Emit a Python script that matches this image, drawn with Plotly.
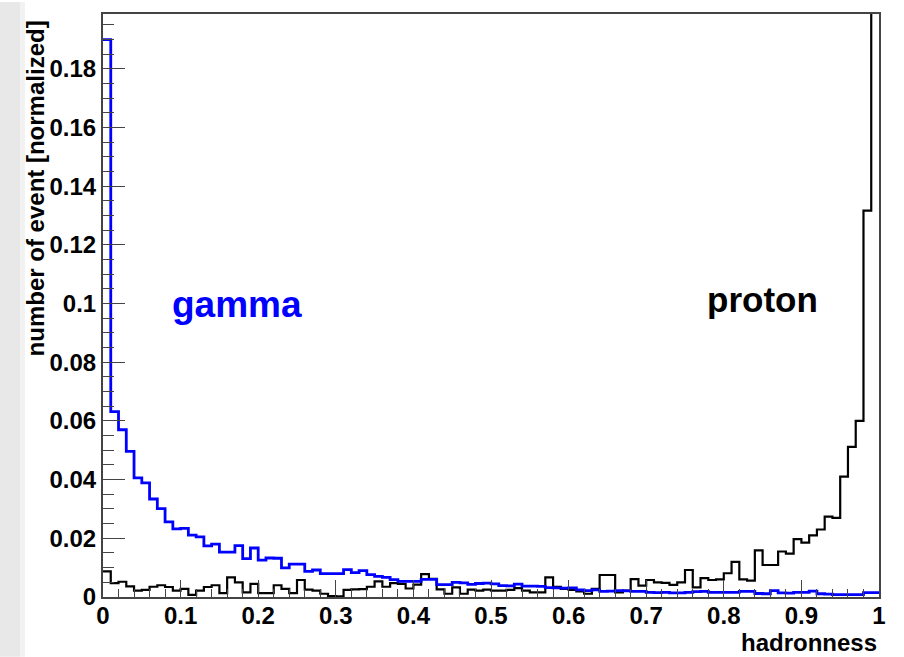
import numpy as np
import plotly.graph_objects as go

# ---- data (normalized histogram contents, 100 bins on [0, 1]) ----
x_min, x_max, n_bins = 0.0, 1.0, 100

gamma_counts = [
    0.1900, 0.0632, 0.0570, 0.0496, 0.0406, 0.0389, 0.0334, 0.0301, 0.0256, 0.0232,
    0.0234, 0.0211, 0.0205, 0.0174, 0.0180, 0.0153, 0.0153, 0.0175, 0.0131, 0.0167,
    0.0126, 0.0133, 0.0132, 0.0099, 0.0112, 0.0112, 0.0087, 0.0092, 0.0080, 0.0080,
    0.0080, 0.0093, 0.0083, 0.0090, 0.0076, 0.0070, 0.0067, 0.0059, 0.0053, 0.0053,
    0.0053, 0.0060, 0.0060, 0.0042, 0.0042, 0.0050, 0.0048, 0.0043, 0.0046, 0.0047,
    0.0045, 0.0039, 0.0038, 0.0044, 0.0037, 0.0037, 0.0036, 0.0032, 0.0031, 0.0030,
    0.0031, 0.0024, 0.0022, 0.0024, 0.0019, 0.0020, 0.0022, 0.0021, 0.0019, 0.0019,
    0.0016, 0.0015, 0.0016, 0.0014, 0.0014, 0.0016, 0.0018, 0.0019, 0.0016, 0.0016,
    0.0016, 0.0016, 0.0019, 0.0019, 0.0012, 0.0011, 0.0022, 0.0014, 0.0013, 0.0016,
    0.0016, 0.0020, 0.0011, 0.0010, 0.0008, 0.0008, 0.0008, 0.0008, 0.0015, 0.0015,
]

proton_counts = [
    0.0087, 0.0047, 0.0052, 0.0036, 0.0022, 0.0024, 0.0035, 0.0040, 0.0034, 0.0022,
    0.0028, 0.0007, 0.0022, 0.0034, 0.0040, 0.0013, 0.0067, 0.0050, 0.0016, 0.0045,
    0.0013, 0.0013, 0.0040, 0.0028, 0.0013, 0.0058, 0.0025, 0.0022, 0.0011, 0.0003,
    0.0002, 0.0024, 0.0026, 0.0027, 0.0035, 0.0053, 0.0035, 0.0047, 0.0045, 0.0029,
    0.0042, 0.0078, 0.0062, 0.0026, 0.0011, 0.0033, 0.0011, 0.0025, 0.0022, 0.0025,
    0.0022, 0.0022, 0.0024, 0.0030, 0.0022, 0.0016, 0.0016, 0.0067, 0.0035, 0.0028,
    0.0024, 0.0019, 0.0011, 0.0028, 0.0075, 0.0075, 0.0016, 0.0022, 0.0061, 0.0039,
    0.0058, 0.0050, 0.0048, 0.0041, 0.0050, 0.0092, 0.0033, 0.0064, 0.0058, 0.0060,
    0.0081, 0.0120, 0.0060, 0.0056, 0.0159, 0.0109, 0.0109, 0.0155, 0.0148, 0.0197,
    0.0185, 0.0210, 0.0230, 0.0274, 0.0270, 0.0410, 0.0512, 0.0600, 0.1317, 0.2500,
]

x_tick_vals = [0, 0.1, 0.2, 0.3, 0.4, 0.5, 0.6, 0.7, 0.8, 0.9, 1]
x_tick_text = ["0", "0.1", "0.2", "0.3", "0.4", "0.5", "0.6", "0.7", "0.8", "0.9", "1"]
y_tick_vals = [0, 0.02, 0.04, 0.06, 0.08, 0.1, 0.12, 0.14, 0.16, 0.18]
y_tick_text = ["0", "0.02", "0.04", "0.06", "0.08", "0.1", "0.12", "0.14", "0.16", "0.18"]

x_title = "hadronness"
y_title = "number of event [normalized]"
gamma_label = "gamma"
proton_label = "proton"

# ---- build step outlines from bin edges ----
edges = np.linspace(x_min, x_max, n_bins + 1)


def step_xy(counts):
    ys = list(counts) + [counts[-1]]
    return edges, ys


FONT = "Liberation Sans, Arial, Helvetica, sans-serif"
W, H = 904, 657
ML, MR, MT, MB = 103, 25, 12, 60
PW, PH = W - ML - MR, H - MT - MB

fig = go.Figure()
gx, gy = step_xy(gamma_counts)
px_, py_ = step_xy(proton_counts)
fig.add_trace(go.Scatter(x=px_, y=py_, mode="lines", line=dict(shape="hv", color="#000000", width=2.2),
                         showlegend=False, hoverinfo="skip"))
fig.add_trace(go.Scatter(x=gx, y=gy, mode="lines", line=dict(shape="hv", color="#0000ff", width=2.8),
                         showlegend=False, hoverinfo="skip"))

axis_col = "#444444"
fig.update_xaxes(
    range=[x_min, x_max], showgrid=False, zeroline=False,
    showline=True, linecolor=axis_col, linewidth=2, mirror=True,
    ticks="inside", ticklen=17, tickwidth=1, tickcolor=axis_col,
    tickmode="array", tickvals=x_tick_vals, ticktext=x_tick_text,
    tickfont=dict(family=FONT, size=24, color="#000000", weight="bold"),
    ticklabelstandoff=-4,
    minor=dict(dtick=0.02, ticks="inside", ticklen=8, tickwidth=1, tickcolor=axis_col, showgrid=False),
)
fig.update_yaxes(
    range=[0, 0.1987], showgrid=False, zeroline=False,
    showline=True, linecolor=axis_col, linewidth=2, mirror=True,
    ticks="inside", ticklen=22, tickwidth=1, tickcolor=axis_col,
    tickmode="array", tickvals=y_tick_vals, ticktext=y_tick_text,
    tickfont=dict(family=FONT, size=24, color="#000000", weight="bold"),
    minor=dict(dtick=0.005, ticks="inside", ticklen=11, tickwidth=1, tickcolor=axis_col, showgrid=False),
)

annotations = [
    dict(text=gamma_label, x=0.1733, y=0.0998, xref="x", yref="y", showarrow=False,
         font=dict(family=FONT, size=37, color="#0000ff", weight="bold")),
    dict(text=proton_label, x=0.8505, y=0.1015, xref="x", yref="y", showarrow=False,
         font=dict(family=FONT, size=35, color="#000000", weight="bold")),
    dict(text=x_title, x=1.0, y=(597 - 643) / PH, xref="paper", yref="paper", xanchor="right",
         yanchor="middle", showarrow=False,
         font=dict(family=FONT, size=24, color="#000000", weight="bold")),
    dict(text=y_title, x=(35 - ML) / PW, y=(597 - 187) / PH, xref="paper", yref="paper",
         xanchor="center", yanchor="middle", textangle=-90, showarrow=False,
         font=dict(family=FONT, size=24, color="#000000", weight="bold")),
]

shapes = [
    dict(type="rect", xref="paper", yref="paper", x0=-ML / PW, x1=(20 - ML) / PW,
         y0=-MB / PH, y1=1 + MT / PH, fillcolor="#e8e8e8", line=dict(width=0), layer="below"),
    dict(type="rect", xref="paper", yref="paper", x0=(20 - ML) / PW, x1=(25 - ML) / PW,
         y0=-MB / PH, y1=1 + MT / PH, fillcolor="#f2f2f2", line=dict(width=0), layer="below"),
]

fig.update_layout(
    width=W, height=H,
    margin=dict(l=ML, r=MR, t=MT, b=MB),
    paper_bgcolor="#ffffff", plot_bgcolor="#ffffff",
    annotations=annotations, shapes=shapes,
    showlegend=False,
)

fig.write_html("out.html")
